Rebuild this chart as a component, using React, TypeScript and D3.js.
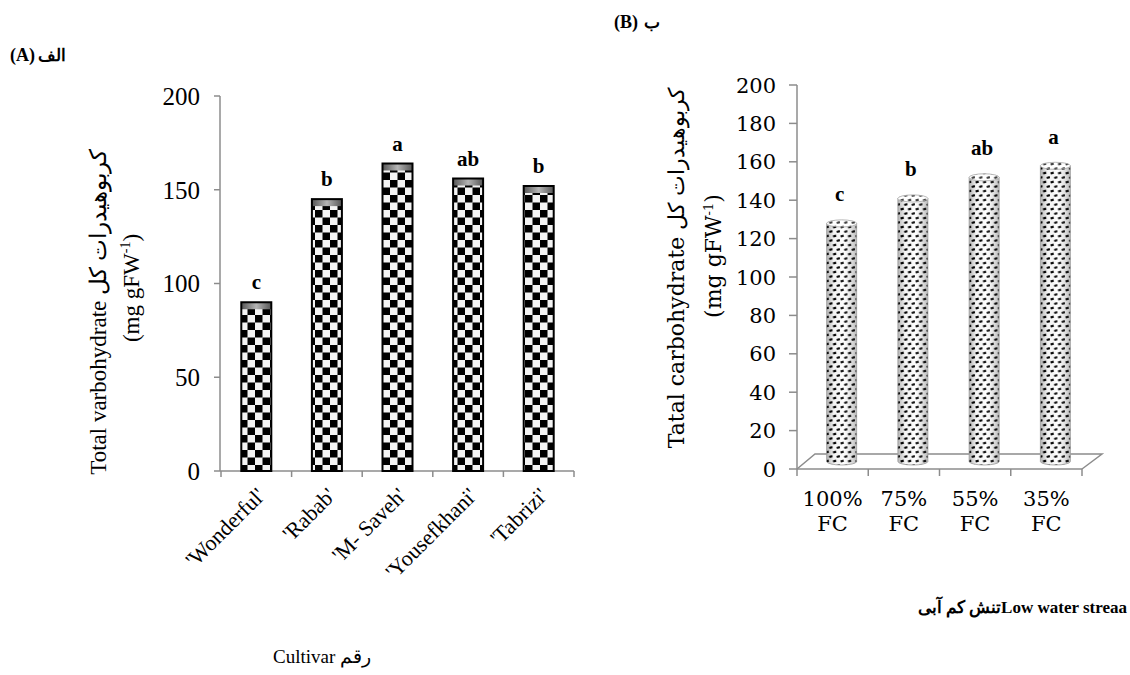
import React from "react";
import * as d3 from "d3";

const cultivars = ["'Wonderful'", "'Rabab'", "'M- Saveh'", "'Yousefkhani'", "'Tabrizi'"];
const carbA = [90, 145, 164, 156, 152];
const lettersA = ["c", "b", "a", "ab", "b"];
const ticksA = [0, 50, 100, 150, 200];

const stressLevels = ["100%", "75%", "55%", "35%"];
const stressUnit = "FC";
const carbB = [124, 137, 148, 154];
const lettersB = ["c", "b", "ab", "a"];
const ticksB = [0, 20, 40, 60, 80, 100, 120, 140, 160, 180, 200];

const serif = "'Liberation Serif', 'Times New Roman', serif";
const wideSerif = "'DejaVu Serif', serif";
const axisGrey = "#8c8c8c";

export default function App() {
  // Panel A scales
  const yA = d3.scaleLinear().domain([0, 200]).range([471, 96]);
  const xA = d3.scaleBand<string>().domain(cultivars).range([221, 574]);
  const barW = 30;

  // Panel B scales
  const yB = d3.scaleLinear().domain([0, 200]).range([469, 85]);
  const xB = d3.scaleBand<string>().domain(stressLevels).range([797, 1082]);
  const depthX = 18, depthY = -15;
  const rx = 15, ry = 3.5;

  const floor0 = yB(0);
  const floorPath = `M${xB.range()[0]},${floor0} L${xB.range()[0] + depthX},${floor0 + depthY} L${xB.range()[1] + depthX + 2},${floor0 + depthY} L${xB.range()[1]},${floor0}`;

  return (
    <svg width={1130} height={675} style={{ position: "absolute", left: 0, top: 0, background: "#fff" }} fontFamily={serif}>
      <defs>
        <pattern id="checker" width={15} height={15} patternUnits="userSpaceOnUse" x={0} y={0}>
          <rect width={15} height={15} fill="#f4f4f4" />
          <rect width={7.5} height={7.5} fill="#000" />
          <rect x={7.5} y={7.5} width={7.5} height={7.5} fill="#000" />
        </pattern>
        <linearGradient id="capGrad" x1="0" x2="1" y1="0" y2="0">
          <stop offset="0" stopColor="#555" />
          <stop offset="0.5" stopColor="#b5b5b5" />
          <stop offset="1" stopColor="#555" />
        </linearGradient>
        <pattern id="dots" width={7.5} height={9} patternUnits="userSpaceOnUse">
          <rect width={7.5} height={9} fill="#fff" />
          <rect x={0.5} y={1} width={3.2} height={2.2} fill="#000" transform="rotate(-15 2 2)" />
          <rect x={4.2} y={5.5} width={3.2} height={2.2} fill="#000" transform="rotate(-15 5.8 6.6)" />
        </pattern>
        <linearGradient id="cylShade" x1="0" x2="1" y1="0" y2="0">
          <stop offset="0" stopColor="#000" stopOpacity={0.3} />
          <stop offset="0.25" stopColor="#000" stopOpacity={0.04} />
          <stop offset="0.55" stopColor="#fff" stopOpacity={0.1} />
          <stop offset="1" stopColor="#000" stopOpacity={0.28} />
        </linearGradient>
      </defs>

      {/* ===== Panel A ===== */}
      <text x={10} y={61} fontSize={18} fontWeight="bold" fill="#000">(A)</text>
      <text x={66} y={61} fontSize={17} fontWeight="bold" fill="#000" textAnchor="end">الف</text>

      {/* y axis */}
      <line x1={220} x2={220} y1={yA(200)} y2={yA(0)} stroke={axisGrey} strokeWidth={1.5} />
      {ticksA.map((t) => (
        <g key={"ta" + t}>
          <line x1={214} x2={220} y1={yA(t)} y2={yA(t)} stroke={axisGrey} strokeWidth={1.5} />
          <text x={200} y={yA(t)} dy="0.35em" textAnchor="end" fontSize={25} fill="#000">{t}</text>
        </g>
      ))}
      {/* x axis */}
      <line x1={220} x2={xA.range()[1]} y1={yA(0)} y2={yA(0)} stroke={axisGrey} strokeWidth={1.5} />
      {cultivars.map((c, i) => (
        <line key={"xta" + i} x1={xA(c)!} x2={xA(c)!} y1={yA(0)} y2={yA(0) + 6} stroke={axisGrey} strokeWidth={1.5} />
      ))}
      <line x1={xA.range()[1]} x2={xA.range()[1]} y1={yA(0)} y2={yA(0) + 6} stroke={axisGrey} strokeWidth={1.5} />

      {/* bars */}
      {cultivars.map((c, i) => {
        const cx = xA(c)! + xA.bandwidth() / 2;
        const x0 = cx - barW / 2;
        const top = yA(carbA[i]);
        const h = yA(0) - top;
        return (
          <g key={"bar" + i}>
            <rect x={x0} y={top} width={barW} height={h} fill="url(#checker)" />
            <rect x={x0} y={top} width={barW} height={7} fill="url(#capGrad)" />
            <rect x={x0} y={top} width={barW} height={h} fill="none" stroke="#000" strokeWidth={2} />
            <text x={cx} y={top - 13} textAnchor="middle" fontSize={21} fontWeight="bold" fill="#000">{lettersA[i]}</text>
            <text
              transform={`translate(${cx + 10},${yA(0) + 26}) rotate(-45)`}
              textAnchor="end"
              fontSize={22}
              fill="#000"
            >{c}</text>
          </g>
        );
      })}

      {/* y title A */}
      <text transform="translate(106,312) rotate(-90)" textAnchor="middle" fontSize={23} fill="#000">Total  varbohydrate کربوهیدرات کل</text>
      <text transform="translate(139,288) rotate(-90)" textAnchor="middle" fontSize={23} fill="#000">
        (mg gFW<tspan fontSize={14} dy={-9}>-1</tspan><tspan dy={9}>)</tspan>
      </text>

      <text x={322} y={663} textAnchor="middle" fontSize={19} fill="#000">Cultivar رقم</text>

      {/* ===== Panel B ===== */}
      <text x={614} y={28} fontSize={18} fontWeight="bold" fill="#000">(B)</text>
      <text x={660} y={28} fontSize={17} fontWeight="bold" fill="#000" textAnchor="end">ب</text>

      {/* floor */}
      <path d={floorPath} fill="none" stroke={axisGrey} strokeWidth={1.5} />
      {/* y axis */}
      <line x1={797} x2={797} y1={yB(200)} y2={yB(0)} stroke={axisGrey} strokeWidth={1.5} />
      {ticksB.map((t) => (
        <g key={"tb" + t}>
          <line x1={789} x2={797} y1={yB(t)} y2={yB(t)} stroke={axisGrey} strokeWidth={1.5} />
          <text x={776} y={yB(t)} dy="0.36em" textAnchor="end" fontSize={21} fontFamily={wideSerif} fill="#000">{t}</text>
        </g>
      ))}
      {/* x axis */}
      <line x1={797} x2={xB.range()[1]} y1={yB(0)} y2={yB(0)} stroke={axisGrey} strokeWidth={1.5} />
      {stressLevels.map((s, i) => (
        <line key={"xtb" + i} x1={xB(s)!} x2={xB(s)!} y1={yB(0)} y2={yB(0) + 7} stroke={axisGrey} strokeWidth={1.5} />
      ))}
      <line x1={xB.range()[1]} x2={xB.range()[1]} y1={yB(0)} y2={yB(0) + 7} stroke={axisGrey} strokeWidth={1.5} />

      {/* cylinders */}
      {stressLevels.map((s, i) => {
        const bc = xB(s)! + xB.bandwidth() / 2;
        const cx = bc + depthX / 2;
        const yBot = yB(0) + depthY / 2;
        const yTop = yB(carbB[i]) + depthY / 2;
        const body = `M${cx - rx},${yTop} L${cx - rx},${yBot} A${rx},${ry} 0 0 0 ${cx + rx},${yBot} L${cx + rx},${yTop} Z`;
        return (
          <g key={"cyl" + i}>
            <path d={body} fill="url(#dots)" />
            <path d={body} fill="url(#cylShade)" />
            <path d={body} fill="none" stroke="#9a9a9a" strokeWidth={0.8} />
            <ellipse cx={cx} cy={yTop} rx={rx} ry={ry} fill="url(#dots)" stroke="#9a9a9a" strokeWidth={0.8} />
            <ellipse cx={cx} cy={yTop} rx={rx} ry={ry} fill="#fff" fillOpacity={0.25} />
            <text x={cx - 2} y={yTop - 22} textAnchor="middle" fontSize={21} fontWeight="bold" fill="#000">{lettersB[i]}</text>
            <text x={bc} y={506} textAnchor="middle" fontSize={21} fontFamily={wideSerif} fill="#000">{s}</text>
            <text x={bc} y={531} textAnchor="middle" fontSize={21} fontFamily={wideSerif} fill="#000">{stressUnit}</text>
          </g>
        );
      })}

      {/* y title B */}
      <text transform="translate(684,268) rotate(-90)" textAnchor="middle" fontSize={22} fontFamily={wideSerif} fill="#000">Tatal carbohydrate کربوهیدرات کل</text>
      <text transform="translate(721,256) rotate(-90)" textAnchor="middle" fontSize={22} fontFamily={wideSerif} fill="#000">
        (mg gFW<tspan fontSize={13} dy={-8}>-1</tspan><tspan dy={8}>)</tspan>
      </text>

      <text x={1127} y={613} textAnchor="end" fontSize={17} fontWeight="bold" fill="#000">تنش کم آبیLow water streaa</text>
    </svg>
  );
}
